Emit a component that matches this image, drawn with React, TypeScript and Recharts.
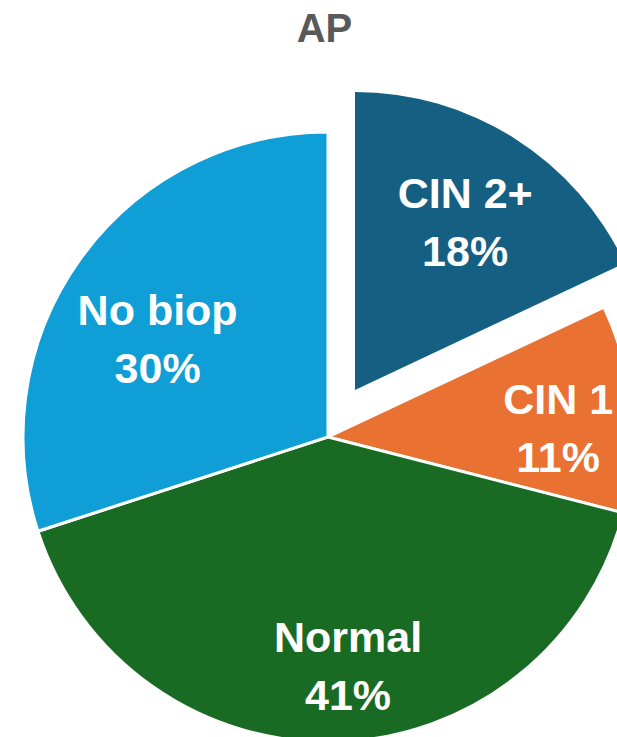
import React from "react";
import { PieChart, Pie, Cell } from "recharts";

const categories = ["CIN 2+", "CIN 1", "Normal", "No biop"];
const shares = [18, 11, 41, 30];
const colors = ["#156082", "#E97132", "#196B24", "#0F9ED5"];
const explodedCategory = "CIN 2+";
const chartTitle = "AP";

const data = categories.map((name, i) => ({ name, value: shares[i] }));

// label placement: fraction of radius and angular nudge (degrees)
const labelPlacement: Record<string, [number, number]> = {
  "CIN 2+": [0.675, -0.8],
  "CIN 1": [0.755, -3.2],
  Normal: [0.754, 3.2],
  "No biop": [0.645, 6],
};

const RAD = Math.PI / 180;

function makeLabel(showExploded: boolean) {
  return (props: any) => {
    const { cx, cy, midAngle, outerRadius, name, value } = props;
    const isExploded = name === explodedCategory;
    if (isExploded !== showExploded) return null;
    const [f, da] = labelPlacement[name] ?? [0.7, 0];
    const r = outerRadius * f;
    const a = midAngle + da;
    const x = cx + r * Math.cos(-a * RAD);
    const y = cy + r * Math.sin(-a * RAD);
    return (
      <text
        x={x}
        y={y}
        fill="#FFFFFF"
        textAnchor="middle"
        dominantBaseline="central"
        fontFamily="'Liberation Sans', Arial, sans-serif"
        fontWeight="bold"
        fontSize={43}
      >
        <tspan x={x} dy={-29}>{name}</tspan>
        <tspan x={x} dy={58}>{`${value}%`}</tspan>
      </text>
    );
  };
}

export default function App() {
  return (
    <div style={{ position: "absolute", left: 0, top: 0, width: 617, height: 737, background: "#fff", overflow: "hidden" }}>
      <div
        style={{
          position: "absolute",
          left: 0,
          top: 4,
          width: 649,
          textAlign: "center",
          fontFamily: "'Liberation Sans', Arial, sans-serif",
          fontWeight: "bold",
          fontSize: 40,
          color: "#595959",
          lineHeight: "48px",
          zIndex: 2,
        }}
      >
        {chartTitle}
      </div>
      <PieChart width={617} height={737} margin={{ top: 0, right: 0, bottom: 0, left: 0 }}>
        <Pie
          data={data}
          dataKey="value"
          nameKey="name"
          cx={328}
          cy={437}
          outerRadius={305}
          startAngle={90}
          endAngle={-270}
          stroke="#FFFFFF"
          strokeWidth={3}
          isAnimationActive={false}
          labelLine={false}
          label={makeLabel(false)}
        >
          {data.map((d, i) => (
            <Cell
              key={d.name}
              fill={d.name === explodedCategory ? "none" : colors[i]}
              stroke={d.name === explodedCategory ? "none" : "#FFFFFF"}
            />
          ))}
        </Pie>
        <Pie
          data={data}
          dataKey="value"
          nameKey="name"
          cx={355}
          cy={390}
          outerRadius={298}
          startAngle={90}
          endAngle={-270}
          isAnimationActive={false}
          labelLine={false}
          label={makeLabel(true)}
        >
          {data.map((d, i) => (
            <Cell
              key={d.name}
              fill={d.name === explodedCategory ? colors[i] : "none"}
              stroke="none"
            />
          ))}
        </Pie>
      </PieChart>
    </div>
  );
}
